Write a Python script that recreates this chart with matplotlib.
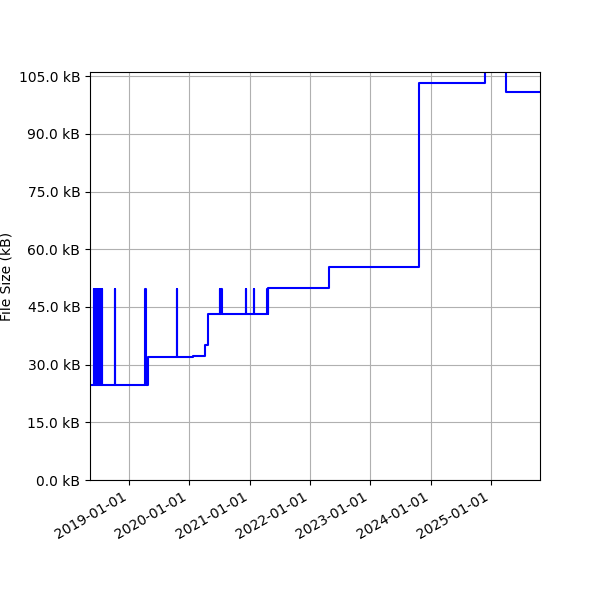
import matplotlib
matplotlib.use("Agg")
import matplotlib.pyplot as plt
import matplotlib.dates as mdates
from matplotlib.ticker import FuncFormatter
from datetime import datetime

# commit dates and file size (kB) after each commit
dates = [
    "2018-05-10", "2018-06-02", "2018-06-05", "2018-06-14", "2018-06-17",
    "2018-06-26", "2018-06-29", "2018-07-08", "2018-07-11", "2018-07-20",
    "2018-07-23", "2018-10-06", "2018-10-09", "2019-04-08", "2019-04-14",
    "2019-04-26", "2019-10-17", "2019-10-20", "2020-01-23", "2020-04-08",
    "2020-04-24", "2020-07-04", "2020-07-07", "2020-07-14", "2020-07-17",
    "2020-12-08", "2020-12-11", "2021-01-26", "2021-01-29", "2021-04-16",
    "2021-04-19", "2021-04-22", "2022-04-25", "2023-10-23", "2024-11-25",
    "2025-04-01", "2025-10-25",
]
sizes = [
    24.7, 49.7, 24.7, 49.7, 24.7,
    49.7, 24.7, 49.7, 24.7, 49.7,
    24.7, 49.7, 24.7, 49.7, 24.7,
    32.0, 49.7, 32.0, 32.2, 35.1,
    43.2, 49.7, 43.2, 49.7, 43.2,
    49.7, 43.2, 49.7, 43.2, 49.7,
    43.2, 49.9, 55.4, 103.3, 110.0,
    100.9, 100.9,
]

x = [datetime.strptime(d, "%Y-%m-%d") for d in dates]

fig = plt.figure(figsize=(6, 6), dpi=100)
ax = fig.add_axes([0.15, 0.2, 0.75, 0.68])
ax.step(x, sizes, where="post", color="blue", linewidth=1.5)

ax.set_xlim(x[0], x[-1])
ax.set_ylim(0, 106.1)
ax.set_yticks([0, 15, 30, 45, 60, 75, 90, 105])
ax.yaxis.set_major_formatter(FuncFormatter(lambda v, p: f"{v:.1f} kB"))
ax.xaxis.set_major_locator(mdates.YearLocator())
ax.xaxis.set_major_formatter(mdates.DateFormatter("%Y-%m-%d"))
ax.set_ylabel("File Size (kB)")
ax.grid(True)
for lbl in ax.get_xticklabels():
    lbl.set_rotation(30)
    lbl.set_ha("right")

fig.savefig("out.png")
